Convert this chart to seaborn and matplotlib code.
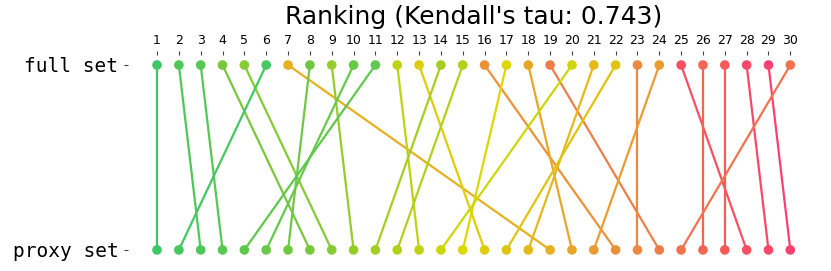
import matplotlib
matplotlib.use('Agg')
import matplotlib.pyplot as plt
import numpy as np
import pandas as pd
import seaborn as sns
from matplotlib.colors import LinearSegmentedColormap

# rank of each item in the full set and where it lands in the proxy set
full_rank = list(range(1, 31))
proxy_rank = [1, 3, 4, 8, 9, 2, 19, 7, 10, 6, 5, 13, 16, 11, 12,
              22, 15, 20, 24, 14, 18, 17, 23, 21, 28, 26, 27, 29, 30, 25]
row_labels = ['full set', 'proxy set']
kendall_tau = 0.743

sns.set_style('ticks', {'text.color': 'black', 'xtick.color': '#444444',
                        'ytick.color': '#444444'})

df = pd.DataFrame({
    'item': full_rank + full_rank,
    'rank': full_rank + proxy_rank,
    'row': [0] * len(full_rank) + [1] * len(proxy_rank),
})

# colour by position in the proxy ranking: green -> yellow -> orange -> pink
cmap = LinearSegmentedColormap.from_list('rank', [
    (0.0, '#3cc864'), (0.25, '#7cc83a'), (0.48, '#dcd800'),
    (0.62, '#e6b020'), (0.79, '#ee8048'), (0.9, '#f45a5a'), (1.0, '#fa4070')])
palette = {item: cmap((p - 1) / 29) for item, p in zip(full_rank, proxy_rank)}

fig, ax = plt.subplots(figsize=(8.31, 2.71), dpi=100)
fig.subplots_adjust(left=0.154, right=0.986, bottom=0.041, top=0.797)

sns.lineplot(data=df, x='rank', y='row', hue='item', units='item',
             estimator=None, sort=False, palette=palette, legend=False,
             lw=1.6, ax=ax)
sns.scatterplot(data=df, x='rank', y='row', hue='item', palette=palette,
                legend=False, s=48, linewidth=0, ax=ax, zorder=3, clip_on=False)

ax.set_xlim(-0.33, 31.33)
ax.set_ylim(1.054, -0.054)
ax.set_xticks(full_rank)
ax.xaxis.tick_top()
ax.tick_params(axis='x', labelsize=9, length=3, width=0.8, pad=3,
               labelcolor='black')
ax.set_yticks([0, 1], row_labels, fontfamily='DejaVu Sans Mono', fontsize=14)
ax.tick_params(axis='y', length=3, width=0.8, pad=4, labelcolor='black')
ax.set_xlabel('')
ax.set_ylabel('')
for s in ax.spines.values():
    s.set_visible(False)

ax.set_title(f"Ranking (Kendall's tau: {kendall_tau})", fontsize=18, y=1.112,
             color='black')

plt.savefig('out.png', dpi=100)
